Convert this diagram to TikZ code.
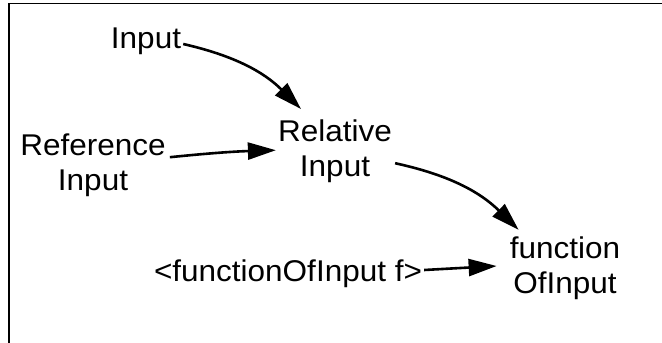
\documentclass[tikz,border=0pt]{standalone}
\usepackage{fontspec}
\setmainfont{Liberation Sans}[FakeStretch=1.05]
\usetikzlibrary{arrows.meta}
\tikzset{
  lbl/.style={inner sep=0pt, anchor=base, font=\fontsize{30}{35}\selectfont},
  arr/.style={line width=2.6pt, -{Triangle[length=28pt,width=17pt]}},
  frame/.style={line width=1.5pt}
}
\newcommand{\twol}[2]{\begin{tabular}[t]{@{}c@{}}#1\\#2\end{tabular}}
\newcommand{\onel}[1]{\begin{tabular}[t]{@{}c@{}}#1\end{tabular}}
\begin{document}
\begin{tikzpicture}[x=1pt,y=-1pt]
\useasboundingbox (0,0) rectangle (662,343);
\fill[white] (0,0) rectangle (662,343);
\draw[frame] (9,343) -- (9,3.5) -- (662,3.5);
\node[lbl] (inp) at (146,48) {\onel{Input}};
\node[lbl] (ref) at (93,155.7) {\twol{Reference}{Input}};
\node[lbl] (rel) at (335,141.7) {\twol{Relative}{Input}};
\node[lbl] (fun) at (565,258) {\twol{function}{OfInput}};
\node[lbl] (fof) at (288,281) {\onel{<functionOfInput f>}};
\draw[arr] ([shift={(2,3)}]inp.east) to[bend left=16] ([shift={(-34,-8)}]rel.north);
\draw[arr] ([shift={(4,-9)}]ref.east) to[bend left=2] ([shift={(-2,-2)}]rel.west);
\draw[arr] ([shift={(3,11)}]rel.east) to[bend left=16] ([shift={(9,-3.5)}]fun.north west);
\draw[arr] ([shift={(2,-4)}]fof.east) -- ([shift={(-13,-2.5)}]fun.west);
\end{tikzpicture}
\end{document}
